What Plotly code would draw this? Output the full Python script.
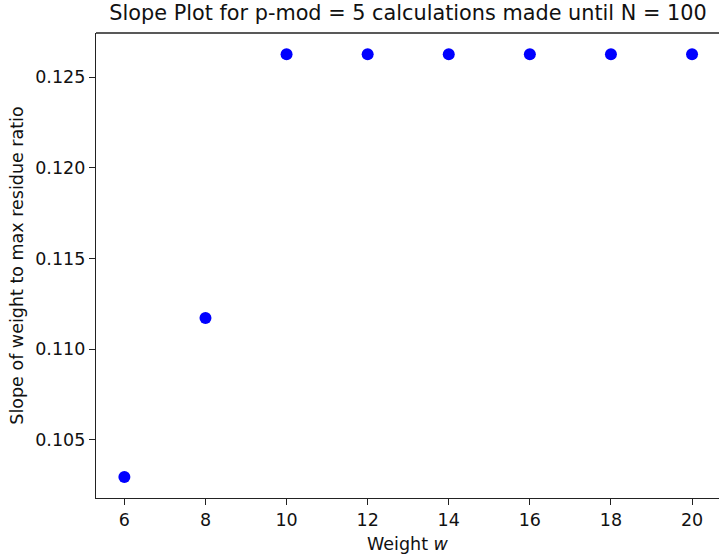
import plotly.graph_objects as go

weights = [6, 8, 10, 12, 14, 16, 18, 20]
slopes = [0.10296, 0.11172, 0.12627, 0.12627, 0.12627, 0.12627, 0.12627, 0.12627]
x_ticks = [6, 8, 10, 12, 14, 16, 18, 20]
y_ticks = [0.105, 0.110, 0.115, 0.120, 0.125]

fig = go.Figure()
fig.add_trace(go.Scatter(x=weights, y=slopes, mode="markers",
                         marker=dict(color="#0000ff", size=12, line=dict(width=0)),
                         showlegend=False))

font = "DejaVu Sans"
fig.update_layout(
    width=719, height=555,
    margin=dict(l=96, r=0, t=33, b=57),
    plot_bgcolor="white", paper_bgcolor="white",
    font=dict(family=font, size=17.5, color="#111"),
    title=dict(text="Slope Plot for p-mod = 5 calculations made until N = 100",
               x=408 / 719, xanchor="center", xref="container",
               y=1 - 12.5 / 555, yanchor="middle", yref="container",
               font=dict(family=font, size=20.8, color="#111")),
)
fig.update_xaxes(range=[5.3, 20.665], tickvals=x_ticks, ticktext=[str(v) for v in x_ticks],
                 showgrid=False, zeroline=False, showline=True, linecolor="#222", linewidth=1.3,
                 mirror=False, ticks="outside", ticklen=6, tickcolor="#222", tickwidth=1.3,
                 tickfont=dict(size=17.5), automargin=False,
                 title=dict(text="Weight <i>w</i>", font=dict(size=17.5), standoff=8))
fig.update_yaxes(range=[0.10180, 0.12744], tickvals=y_ticks,
                 ticktext=["%.3f" % v for v in y_ticks],
                 showgrid=False, zeroline=False, showline=True, linecolor="#222", linewidth=1.3,
                 mirror=False, ticks="outside", ticklen=6, tickcolor="#222", tickwidth=1.3,
                 tickfont=dict(size=17.5), automargin=False,
                 title=dict(text="Slope of weight to max residue ratio", font=dict(size=17.5), standoff=7))
# top spine
fig.add_shape(type="line", xref="paper", yref="paper", x0=0, x1=1, y0=1, y1=1,
              line=dict(color="#222", width=1.3))

fig.write_html("out.html", config={"displayModeBar": False},
               post_script="document.body.style.margin='0';")
